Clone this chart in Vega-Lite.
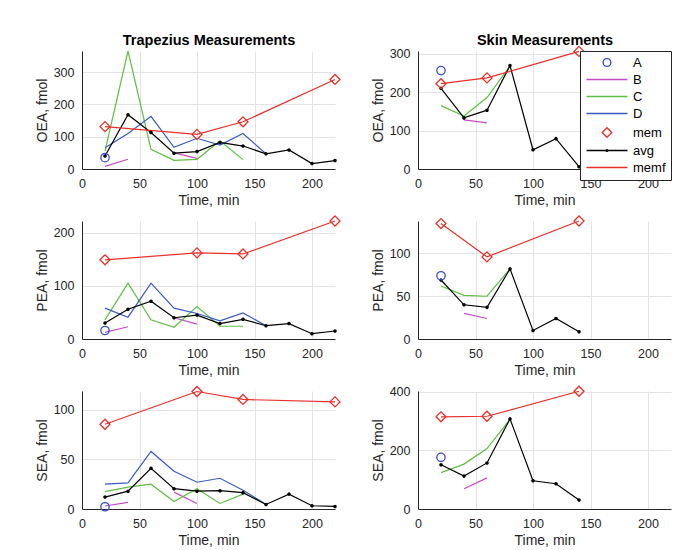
{
  "$schema": "https://vega.github.io/schema/vega-lite/v6.json",
  "background": "white",
  "padding": {"left": 35, "top": 32, "right": 2, "bottom": 2},
  "config": {
    "font": "Liberation Sans",
    "view": {"stroke": null},
    "axis": {"labelFont": "Liberation Sans", "labelFontSize": 12.5, "labelColor": "#262626", "titleFont": "Liberation Sans", "titleFontSize": 14, "titleFontWeight": "normal", "titleColor": "#262626", "domainColor": "#262626", "domainWidth": 1, "ticks": false, "gridColor": "#e3e3e3", "gridWidth": 1, "labelFlush": false, "labelPadding": 8},
    "axisX": {"titlePadding": 4},
    "axisY": {"titlePadding": 4}
  },
  "datasets": {
    "d": [
      {"p": "OEA_T", "s": "A", "t": 20, "v": 35},
      {"p": "OEA_T", "s": "B", "t": 20, "v": 8},
      {"p": "OEA_T", "s": "B", "t": 40, "v": 30},
      {"p": "OEA_T", "s": "B", "t": 80, "v": 50, "g": 2},
      {"p": "OEA_T", "s": "B", "t": 100, "v": 33, "g": 2},
      {"p": "OEA_T", "s": "C", "t": 20, "v": 55},
      {"p": "OEA_T", "s": "C", "t": 40, "v": 365},
      {"p": "OEA_T", "s": "C", "t": 60, "v": 61},
      {"p": "OEA_T", "s": "C", "t": 80, "v": 27},
      {"p": "OEA_T", "s": "C", "t": 100, "v": 30},
      {"p": "OEA_T", "s": "C", "t": 120, "v": 87},
      {"p": "OEA_T", "s": "C", "t": 140, "v": 29},
      {"p": "OEA_T", "s": "D", "t": 20, "v": 66},
      {"p": "OEA_T", "s": "D", "t": 40, "v": 110},
      {"p": "OEA_T", "s": "D", "t": 60, "v": 163},
      {"p": "OEA_T", "s": "D", "t": 80, "v": 67},
      {"p": "OEA_T", "s": "D", "t": 100, "v": 95},
      {"p": "OEA_T", "s": "D", "t": 120, "v": 74},
      {"p": "OEA_T", "s": "D", "t": 140, "v": 110},
      {"p": "OEA_T", "s": "D", "t": 160, "v": 47},
      {"p": "OEA_T", "s": "avg", "t": 20, "v": 40},
      {"p": "OEA_T", "s": "avg", "t": 40, "v": 168},
      {"p": "OEA_T", "s": "avg", "t": 60, "v": 113},
      {"p": "OEA_T", "s": "avg", "t": 80, "v": 49},
      {"p": "OEA_T", "s": "avg", "t": 100, "v": 54},
      {"p": "OEA_T", "s": "avg", "t": 120, "v": 82},
      {"p": "OEA_T", "s": "avg", "t": 140, "v": 71},
      {"p": "OEA_T", "s": "avg", "t": 160, "v": 47},
      {"p": "OEA_T", "s": "avg", "t": 180, "v": 59},
      {"p": "OEA_T", "s": "avg", "t": 200, "v": 17},
      {"p": "OEA_T", "s": "avg", "t": 220, "v": 26},
      {"p": "OEA_T", "s": "mem", "t": 20, "v": 131},
      {"p": "OEA_T", "s": "mem", "t": 100, "v": 107},
      {"p": "OEA_T", "s": "mem", "t": 140, "v": 146},
      {"p": "OEA_T", "s": "mem", "t": 220, "v": 277},

      {"p": "OEA_S", "s": "A", "t": 20, "v": 256},
      {"p": "OEA_S", "s": "B", "t": 40, "v": 128},
      {"p": "OEA_S", "s": "B", "t": 60, "v": 120},
      {"p": "OEA_S", "s": "C", "t": 20, "v": 165},
      {"p": "OEA_S", "s": "C", "t": 40, "v": 138},
      {"p": "OEA_S", "s": "C", "t": 60, "v": 186},
      {"p": "OEA_S", "s": "C", "t": 80, "v": 268},
      {"p": "OEA_S", "s": "avg", "t": 20, "v": 210},
      {"p": "OEA_S", "s": "avg", "t": 40, "v": 133},
      {"p": "OEA_S", "s": "avg", "t": 60, "v": 153},
      {"p": "OEA_S", "s": "avg", "t": 80, "v": 269},
      {"p": "OEA_S", "s": "avg", "t": 100, "v": 50},
      {"p": "OEA_S", "s": "avg", "t": 120, "v": 79},
      {"p": "OEA_S", "s": "avg", "t": 140, "v": 6},
      {"p": "OEA_S", "s": "mem", "t": 20, "v": 222},
      {"p": "OEA_S", "s": "mem", "t": 60, "v": 237},
      {"p": "OEA_S", "s": "mem", "t": 140, "v": 306},

      {"p": "PEA_T", "s": "A", "t": 20, "v": 16},
      {"p": "PEA_T", "s": "B", "t": 20, "v": 12.5},
      {"p": "PEA_T", "s": "B", "t": 40, "v": 23},
      {"p": "PEA_T", "s": "B", "t": 80, "v": 40, "g": 2},
      {"p": "PEA_T", "s": "B", "t": 100, "v": 28, "g": 2},
      {"p": "PEA_T", "s": "C", "t": 20, "v": 36},
      {"p": "PEA_T", "s": "C", "t": 40, "v": 105},
      {"p": "PEA_T", "s": "C", "t": 60, "v": 36},
      {"p": "PEA_T", "s": "C", "t": 80, "v": 22},
      {"p": "PEA_T", "s": "C", "t": 100, "v": 61},
      {"p": "PEA_T", "s": "C", "t": 120, "v": 24},
      {"p": "PEA_T", "s": "C", "t": 140, "v": 24},
      {"p": "PEA_T", "s": "D", "t": 20, "v": 58},
      {"p": "PEA_T", "s": "D", "t": 40, "v": 41},
      {"p": "PEA_T", "s": "D", "t": 60, "v": 105},
      {"p": "PEA_T", "s": "D", "t": 80, "v": 58},
      {"p": "PEA_T", "s": "D", "t": 100, "v": 48},
      {"p": "PEA_T", "s": "D", "t": 120, "v": 34},
      {"p": "PEA_T", "s": "D", "t": 140, "v": 49},
      {"p": "PEA_T", "s": "D", "t": 160, "v": 25},
      {"p": "PEA_T", "s": "avg", "t": 20, "v": 30},
      {"p": "PEA_T", "s": "avg", "t": 40, "v": 56},
      {"p": "PEA_T", "s": "avg", "t": 60, "v": 71},
      {"p": "PEA_T", "s": "avg", "t": 80, "v": 40},
      {"p": "PEA_T", "s": "avg", "t": 100, "v": 45},
      {"p": "PEA_T", "s": "avg", "t": 120, "v": 29},
      {"p": "PEA_T", "s": "avg", "t": 140, "v": 37},
      {"p": "PEA_T", "s": "avg", "t": 160, "v": 25},
      {"p": "PEA_T", "s": "avg", "t": 180, "v": 29},
      {"p": "PEA_T", "s": "avg", "t": 200, "v": 10},
      {"p": "PEA_T", "s": "avg", "t": 220, "v": 15},
      {"p": "PEA_T", "s": "mem", "t": 20, "v": 149},
      {"p": "PEA_T", "s": "mem", "t": 100, "v": 162},
      {"p": "PEA_T", "s": "mem", "t": 140, "v": 160},
      {"p": "PEA_T", "s": "mem", "t": 220, "v": 222},

      {"p": "PEA_S", "s": "A", "t": 20, "v": 74},
      {"p": "PEA_S", "s": "B", "t": 40, "v": 30},
      {"p": "PEA_S", "s": "B", "t": 60, "v": 24},
      {"p": "PEA_S", "s": "C", "t": 20, "v": 62},
      {"p": "PEA_S", "s": "C", "t": 40, "v": 51},
      {"p": "PEA_S", "s": "C", "t": 60, "v": 50},
      {"p": "PEA_S", "s": "C", "t": 80, "v": 82},
      {"p": "PEA_S", "s": "avg", "t": 20, "v": 69},
      {"p": "PEA_S", "s": "avg", "t": 40, "v": 40},
      {"p": "PEA_S", "s": "avg", "t": 60, "v": 37},
      {"p": "PEA_S", "s": "avg", "t": 80, "v": 82},
      {"p": "PEA_S", "s": "avg", "t": 100, "v": 10},
      {"p": "PEA_S", "s": "avg", "t": 120, "v": 24},
      {"p": "PEA_S", "s": "avg", "t": 140, "v": 8.5},
      {"p": "PEA_S", "s": "mem", "t": 20, "v": 135},
      {"p": "PEA_S", "s": "mem", "t": 60, "v": 96},
      {"p": "PEA_S", "s": "mem", "t": 140, "v": 138},

      {"p": "SEA_T", "s": "A", "t": 20, "v": 2.3},
      {"p": "SEA_T", "s": "B", "t": 20, "v": 3},
      {"p": "SEA_T", "s": "B", "t": 40, "v": 6.6},
      {"p": "SEA_T", "s": "B", "t": 80, "v": 17, "g": 2},
      {"p": "SEA_T", "s": "B", "t": 100, "v": 5.6, "g": 2},
      {"p": "SEA_T", "s": "C", "t": 20, "v": 17.5},
      {"p": "SEA_T", "s": "C", "t": 40, "v": 22},
      {"p": "SEA_T", "s": "C", "t": 60, "v": 25},
      {"p": "SEA_T", "s": "C", "t": 80, "v": 7.6},
      {"p": "SEA_T", "s": "C", "t": 100, "v": 20.5},
      {"p": "SEA_T", "s": "C", "t": 120, "v": 5.6},
      {"p": "SEA_T", "s": "C", "t": 140, "v": 15},
      {"p": "SEA_T", "s": "D", "t": 20, "v": 25},
      {"p": "SEA_T", "s": "D", "t": 40, "v": 26.4},
      {"p": "SEA_T", "s": "D", "t": 60, "v": 58},
      {"p": "SEA_T", "s": "D", "t": 80, "v": 38},
      {"p": "SEA_T", "s": "D", "t": 100, "v": 27},
      {"p": "SEA_T", "s": "D", "t": 120, "v": 31},
      {"p": "SEA_T", "s": "D", "t": 140, "v": 19},
      {"p": "SEA_T", "s": "D", "t": 160, "v": 4.6},
      {"p": "SEA_T", "s": "avg", "t": 20, "v": 12},
      {"p": "SEA_T", "s": "avg", "t": 40, "v": 18},
      {"p": "SEA_T", "s": "avg", "t": 60, "v": 41},
      {"p": "SEA_T", "s": "avg", "t": 80, "v": 20.5},
      {"p": "SEA_T", "s": "avg", "t": 100, "v": 18},
      {"p": "SEA_T", "s": "avg", "t": 120, "v": 18.5},
      {"p": "SEA_T", "s": "avg", "t": 140, "v": 16.5},
      {"p": "SEA_T", "s": "avg", "t": 160, "v": 4.6},
      {"p": "SEA_T", "s": "avg", "t": 180, "v": 15},
      {"p": "SEA_T", "s": "avg", "t": 200, "v": 3.3},
      {"p": "SEA_T", "s": "avg", "t": 220, "v": 2.6},
      {"p": "SEA_T", "s": "mem", "t": 20, "v": 85.5},
      {"p": "SEA_T", "s": "mem", "t": 100, "v": 118.5},
      {"p": "SEA_T", "s": "mem", "t": 140, "v": 110.5},
      {"p": "SEA_T", "s": "mem", "t": 220, "v": 108},

      {"p": "SEA_S", "s": "A", "t": 20, "v": 176},
      {"p": "SEA_S", "s": "B", "t": 40, "v": 69},
      {"p": "SEA_S", "s": "B", "t": 60, "v": 106},
      {"p": "SEA_S", "s": "C", "t": 20, "v": 124},
      {"p": "SEA_S", "s": "C", "t": 40, "v": 153},
      {"p": "SEA_S", "s": "C", "t": 60, "v": 206},
      {"p": "SEA_S", "s": "C", "t": 80, "v": 305},
      {"p": "SEA_S", "s": "avg", "t": 20, "v": 151},
      {"p": "SEA_S", "s": "avg", "t": 40, "v": 112},
      {"p": "SEA_S", "s": "avg", "t": 60, "v": 157},
      {"p": "SEA_S", "s": "avg", "t": 80, "v": 307},
      {"p": "SEA_S", "s": "avg", "t": 100, "v": 96},
      {"p": "SEA_S", "s": "avg", "t": 120, "v": 86},
      {"p": "SEA_S", "s": "avg", "t": 140, "v": 31},
      {"p": "SEA_S", "s": "mem", "t": 20, "v": 314},
      {"p": "SEA_S", "s": "mem", "t": 60, "v": 316},
      {"p": "SEA_S", "s": "mem", "t": 140, "v": 401}
    ]
  },
  "data": {"name": "d"},
  "columns": 2,
  "spacing": {"row": 5, "column": 28},
  "resolve": {"scale": {"x": "independent", "y": "independent", "color": "independent"}, "legend": {"color": "independent"}},
  "concat": [
    {
      "width": 253, "height": 118,
      "transform": [{"filter": "datum.p === 'OEA_T'"}],
      "resolve": {"axis": {"x": "independent"}},
      "encoding": {
        "x": {"field": "t", "type": "quantitative", "scale": {"domain": [0, 220], "nice": false}, "axis": null},
        "y": {"field": "v", "type": "quantitative", "scale": {"domain": [0, 365], "nice": false}, "axis": {"title": "OEA, fmol", "values": [0, 100, 200, 300]}},
        "color": {"field": "s", "type": "nominal", "scale": {"domain": ["A", "B", "C", "D", "mem", "avg", "memf"], "range": ["#3b4fc4", "#c24fc4", "#62bd45", "#3b5ac2", "#e8302a", "#000000", "#e8302a"]}, "legend": null}
      },
      "layer": [
        {"transform": [{"filter": "indexof(['B','C','D','avg'], datum.s) >= 0"}], "mark": {"type": "line", "strokeWidth": 1.2},
          "encoding": {"detail": {"field": "g"}, "x": {"field": "t", "type": "quantitative", "scale": {"domain": [0, 220], "nice": false}, "axis": {"orient": "bottom", "title": "Time, min", "values": [0, 50, 100, 150, 200]}}}},
        {"transform": [{"filter": "datum.s === 'mem'"}], "mark": {"type": "line", "strokeWidth": 1.2}, "encoding": {"color": {"datum": "memf", "type": "nominal"}}},
        {"transform": [{"filter": "datum.s === 'avg'"}], "mark": {"type": "point", "shape": "circle", "filled": false, "size": 3, "strokeWidth": 1.8, "opacity": 1}},
        {"transform": [{"filter": "datum.s === 'A'"}], "mark": {"type": "point", "shape": "circle", "filled": false, "size": 70, "strokeWidth": 1.3, "opacity": 1}},
        {"transform": [{"filter": "datum.s === 'mem'"}], "mark": {"type": "point", "shape": "diamond", "filled": false, "size": 100, "strokeWidth": 1.3, "opacity": 1},
          "encoding": {"x": {"field": "t", "type": "quantitative", "scale": {"domain": [0, 220], "nice": false}, "axis": {"orient": "top", "title": "Trapezius Measurements", "labels": false, "domain": false, "grid": false, "ticks": false, "titleFontWeight": "bold", "titleFontSize": 14.5, "titleColor": "#000000", "titlePadding": 4}}}}
      ]
    },
    {
      "width": 253, "height": 118,
      "transform": [{"filter": "datum.p === 'OEA_S'"}],
      "resolve": {"axis": {"x": "independent"}},
      "encoding": {
        "x": {"field": "t", "type": "quantitative", "scale": {"domain": [0, 220], "nice": false}, "axis": null},
        "y": {"field": "v", "type": "quantitative", "scale": {"domain": [0, 307], "nice": false}, "axis": {"title": "OEA, fmol", "values": [0, 100, 200, 300]}},
        "color": {"field": "s", "type": "nominal", "scale": {"domain": ["A", "B", "C", "D", "mem", "avg", "memf"], "range": ["#3b4fc4", "#c24fc4", "#62bd45", "#3b5ac2", "#e8302a", "#000000", "#e8302a"]},
          "legend": {"title": null, "orient": "top-right", "offset": 0, "padding": 5, "strokeColor": "#262626", "fillColor": "#ffffff", "labelFont": "Liberation Sans", "labelFontSize": 13, "labelColor": "#000", "labelOffset": 19.5, "symbolType": "stroke", "symbolSize": 100, "symbolOffset": 15.5, "symbolStrokeWidth": 1.4, "symbolFillColor": "transparent", "rowPadding": 3,
            "encode": {"symbols": {"update": {
              "shape": {"signal": "datum.value === 'A' ? 'circle' : datum.value === 'mem' ? 'diamond' : datum.value === 'avg' ? 'M-1,0H1M-0.04,0A0.04,0.04 0 1,0 0.04,0A0.04,0.04 0 1,0 -0.04,0Z' : 'stroke'"},
              "size": {"signal": "datum.value === 'A' ? 60 : datum.value === 'mem' ? 90 : 1680"},
              "fill": {"value": "transparent"},
              "strokeWidth": {"signal": "datum.value === 'avg' ? 1.6 : 1.4"}
            }}}}}
      },
      "layer": [
        {"transform": [{"filter": "indexof(['B','C','D','avg'], datum.s) >= 0"}], "mark": {"type": "line", "strokeWidth": 1.2},
          "encoding": {"detail": {"field": "g"}, "x": {"field": "t", "type": "quantitative", "scale": {"domain": [0, 220], "nice": false}, "axis": {"orient": "bottom", "title": "Time, min", "values": [0, 50, 100, 150, 200]}}}},
        {"transform": [{"filter": "datum.s === 'mem'"}], "mark": {"type": "line", "strokeWidth": 1.2}, "encoding": {"color": {"datum": "memf", "type": "nominal"}}},
        {"transform": [{"filter": "datum.s === 'avg'"}], "mark": {"type": "point", "shape": "circle", "filled": false, "size": 3, "strokeWidth": 1.8, "opacity": 1}},
        {"transform": [{"filter": "datum.s === 'A'"}], "mark": {"type": "point", "shape": "circle", "filled": false, "size": 70, "strokeWidth": 1.3, "opacity": 1}},
        {"transform": [{"filter": "datum.s === 'mem'"}], "mark": {"type": "point", "shape": "diamond", "filled": false, "size": 100, "strokeWidth": 1.3, "opacity": 1},
          "encoding": {"x": {"field": "t", "type": "quantitative", "scale": {"domain": [0, 220], "nice": false}, "axis": {"orient": "top", "title": "Skin Measurements", "labels": false, "domain": false, "grid": false, "ticks": false, "titleFontWeight": "bold", "titleFontSize": 14.5, "titleColor": "#000000", "titlePadding": 4}}}}
      ]
    },
    {
      "width": 253, "height": 118,
      "transform": [{"filter": "datum.p === 'PEA_T'"}],
      "encoding": {
        "x": {"field": "t", "type": "quantitative", "scale": {"domain": [0, 220], "nice": false}, "axis": {"title": "Time, min", "values": [0, 50, 100, 150, 200]}},
        "y": {"field": "v", "type": "quantitative", "scale": {"domain": [0, 222], "nice": false}, "axis": {"title": "PEA, fmol", "values": [0, 100, 200]}},
        "color": {"field": "s", "type": "nominal", "scale": {"domain": ["A", "B", "C", "D", "mem", "avg", "memf"], "range": ["#3b4fc4", "#c24fc4", "#62bd45", "#3b5ac2", "#e8302a", "#000000", "#e8302a"]}, "legend": null}
      },
      "layer": [
        {"transform": [{"filter": "indexof(['B','C','D','avg'], datum.s) >= 0"}], "mark": {"type": "line", "strokeWidth": 1.2}, "encoding": {"detail": {"field": "g"}}},
        {"transform": [{"filter": "datum.s === 'mem'"}], "mark": {"type": "line", "strokeWidth": 1.2}, "encoding": {"color": {"datum": "memf", "type": "nominal"}}},
        {"transform": [{"filter": "datum.s === 'avg'"}], "mark": {"type": "point", "shape": "circle", "filled": false, "size": 3, "strokeWidth": 1.8, "opacity": 1}},
        {"transform": [{"filter": "datum.s === 'A'"}], "mark": {"type": "point", "shape": "circle", "filled": false, "size": 70, "strokeWidth": 1.3, "opacity": 1}},
        {"transform": [{"filter": "datum.s === 'mem'"}], "mark": {"type": "point", "shape": "diamond", "filled": false, "size": 100, "strokeWidth": 1.3, "opacity": 1}}
      ]
    },
    {
      "width": 253, "height": 118,
      "transform": [{"filter": "datum.p === 'PEA_S'"}],
      "encoding": {
        "x": {"field": "t", "type": "quantitative", "scale": {"domain": [0, 220], "nice": false}, "axis": {"title": "Time, min", "values": [0, 50, 100, 150, 200]}},
        "y": {"field": "v", "type": "quantitative", "scale": {"domain": [0, 138], "nice": false}, "axis": {"title": "PEA, fmol", "values": [0, 50, 100]}},
        "color": {"field": "s", "type": "nominal", "scale": {"domain": ["A", "B", "C", "D", "mem", "avg", "memf"], "range": ["#3b4fc4", "#c24fc4", "#62bd45", "#3b5ac2", "#e8302a", "#000000", "#e8302a"]}, "legend": null}
      },
      "layer": [
        {"transform": [{"filter": "indexof(['B','C','D','avg'], datum.s) >= 0"}], "mark": {"type": "line", "strokeWidth": 1.2}, "encoding": {"detail": {"field": "g"}}},
        {"transform": [{"filter": "datum.s === 'mem'"}], "mark": {"type": "line", "strokeWidth": 1.2}, "encoding": {"color": {"datum": "memf", "type": "nominal"}}},
        {"transform": [{"filter": "datum.s === 'avg'"}], "mark": {"type": "point", "shape": "circle", "filled": false, "size": 3, "strokeWidth": 1.8, "opacity": 1}},
        {"transform": [{"filter": "datum.s === 'A'"}], "mark": {"type": "point", "shape": "circle", "filled": false, "size": 70, "strokeWidth": 1.3, "opacity": 1}},
        {"transform": [{"filter": "datum.s === 'mem'"}], "mark": {"type": "point", "shape": "diamond", "filled": false, "size": 100, "strokeWidth": 1.3, "opacity": 1}}
      ]
    },
    {
      "width": 253, "height": 118,
      "transform": [{"filter": "datum.p === 'SEA_T'"}],
      "encoding": {
        "x": {"field": "t", "type": "quantitative", "scale": {"domain": [0, 220], "nice": false}, "axis": {"title": "Time, min", "values": [0, 50, 100, 150, 200]}},
        "y": {"field": "v", "type": "quantitative", "scale": {"domain": [0, 119], "nice": false}, "axis": {"title": "SEA, fmol", "values": [0, 50, 100]}},
        "color": {"field": "s", "type": "nominal", "scale": {"domain": ["A", "B", "C", "D", "mem", "avg", "memf"], "range": ["#3b4fc4", "#c24fc4", "#62bd45", "#3b5ac2", "#e8302a", "#000000", "#e8302a"]}, "legend": null}
      },
      "layer": [
        {"transform": [{"filter": "indexof(['B','C','D','avg'], datum.s) >= 0"}], "mark": {"type": "line", "strokeWidth": 1.2}, "encoding": {"detail": {"field": "g"}}},
        {"transform": [{"filter": "datum.s === 'mem'"}], "mark": {"type": "line", "strokeWidth": 1.2}, "encoding": {"color": {"datum": "memf", "type": "nominal"}}},
        {"transform": [{"filter": "datum.s === 'avg'"}], "mark": {"type": "point", "shape": "circle", "filled": false, "size": 3, "strokeWidth": 1.8, "opacity": 1}},
        {"transform": [{"filter": "datum.s === 'A'"}], "mark": {"type": "point", "shape": "circle", "filled": false, "size": 70, "strokeWidth": 1.3, "opacity": 1}},
        {"transform": [{"filter": "datum.s === 'mem'"}], "mark": {"type": "point", "shape": "diamond", "filled": false, "size": 100, "strokeWidth": 1.3, "opacity": 1}}
      ]
    },
    {
      "width": 253, "height": 118,
      "transform": [{"filter": "datum.p === 'SEA_S'"}],
      "encoding": {
        "x": {"field": "t", "type": "quantitative", "scale": {"domain": [0, 220], "nice": false}, "axis": {"title": "Time, min", "values": [0, 50, 100, 150, 200]}},
        "y": {"field": "v", "type": "quantitative", "scale": {"domain": [0, 402], "nice": false}, "axis": {"title": "SEA, fmol", "values": [0, 200, 400]}},
        "color": {"field": "s", "type": "nominal", "scale": {"domain": ["A", "B", "C", "D", "mem", "avg", "memf"], "range": ["#3b4fc4", "#c24fc4", "#62bd45", "#3b5ac2", "#e8302a", "#000000", "#e8302a"]}, "legend": null}
      },
      "layer": [
        {"transform": [{"filter": "indexof(['B','C','D','avg'], datum.s) >= 0"}], "mark": {"type": "line", "strokeWidth": 1.2}, "encoding": {"detail": {"field": "g"}}},
        {"transform": [{"filter": "datum.s === 'mem'"}], "mark": {"type": "line", "strokeWidth": 1.2}, "encoding": {"color": {"datum": "memf", "type": "nominal"}}},
        {"transform": [{"filter": "datum.s === 'avg'"}], "mark": {"type": "point", "shape": "circle", "filled": false, "size": 3, "strokeWidth": 1.8, "opacity": 1}},
        {"transform": [{"filter": "datum.s === 'A'"}], "mark": {"type": "point", "shape": "circle", "filled": false, "size": 70, "strokeWidth": 1.3, "opacity": 1}},
        {"transform": [{"filter": "datum.s === 'mem'"}], "mark": {"type": "point", "shape": "diamond", "filled": false, "size": 100, "strokeWidth": 1.3, "opacity": 1}}
      ]
    }
  ]
}
